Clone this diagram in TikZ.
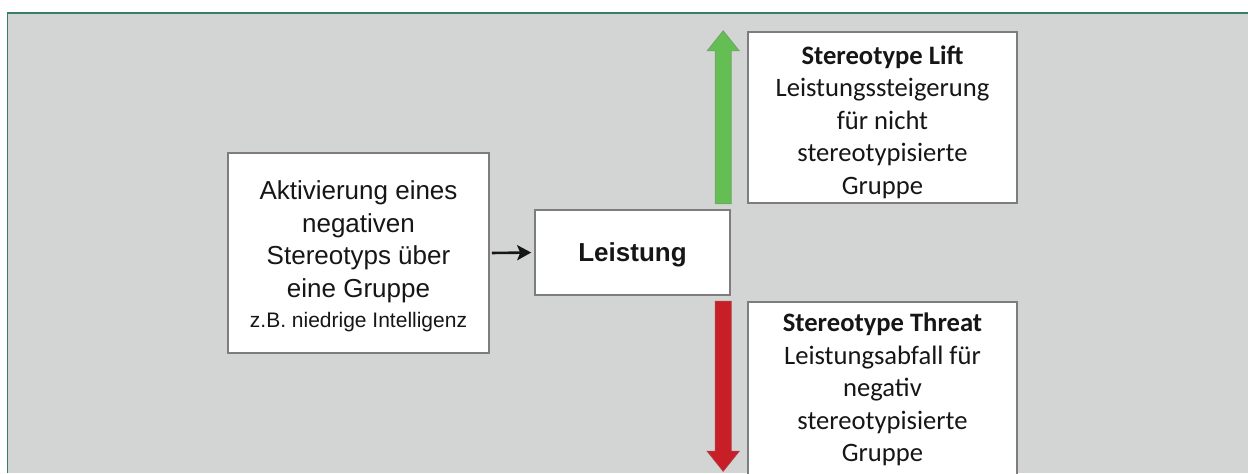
\documentclass[tikz,border=0pt]{standalone}
\usepackage{fontspec}
\setmainfont{Liberation Sans}
\newfontfamily\calibri{Carlito}
\usetikzlibrary{arrows.meta,calc}
\definecolor{panel}{RGB}{211,213,212}
\definecolor{frame}{RGB}{58,125,105}
\definecolor{boxline}{RGB}{125,125,125}
\definecolor{ink}{RGB}{22,22,22}
\definecolor{liftgreen}{RGB}{100,190,84}
\definecolor{threatred}{RGB}{200,30,40}
% centred lines, moved vertically by #1 without changing the box size
\newcommand\cardtext[2]{\raisebox{#1}[\height][\depth]{\begin{tabular}{@{}c@{}}#2\end{tabular}}}
\begin{document}
\begin{tikzpicture}[x=0.5pt,y=-0.5pt,
  card/.style={draw=boxline, line width=0.8pt, fill=white, inner sep=0pt, text=ink},
  sans/.style={font=\fontsize{13}{16.2}\selectfont},
  cal/.style={font=\calibri\fontsize{13.3}{16.25}\selectfont},
  blockarrow/.style={line width=0.4pt, line join=miter}]
\useasboundingbox (0,0) rectangle (1248,473);
\clip (0,0) rectangle (1248,473);

% panel and its frame
\fill[panel] (8,13) rectangle (1248,473);
\draw[frame, line width=0.8pt] (7.5,473) -- (7.5,13) -- (1248,13);

% boxes
\node[card, sans, minimum width=130.5pt, minimum height=100pt] (cause) at (358.5,253)
  {\cardtext{-2pt}{Aktivierung eines\\negativen\\Stereotyps über\\eine Gruppe\\[-1.2pt]
   \fontsize{10.5}{13}\selectfont z.B. niedrige Intelligenz}};
\node[card, minimum width=97.5pt, minimum height=42.5pt,
      font=\bfseries\fontsize{13}{16}\selectfont] (perf) at (632.5,252.5)
  {\cardtext{-1.2pt}{Leistung}};
\node[card, cal, minimum width=134.5pt, minimum height=85.5pt] (lift) at (882.5,117.5)
  {\cardtext{-2.5pt}{\textbf{Stereotype Lift}\\Leistungssteigerung\\für nicht\\stereotypisierte\\Gruppe}};
\node[card, cal, minimum width=134.5pt, minimum height=90pt] (threat) at (882.5,392)
  {\cardtext{1pt}{\textbf{Stereotype Threat}\\Leistungsabfall für\\negativ\\stereotypisierte\\Gruppe}};

% cause -> performance
\draw[ink, line width=1.3pt, -{Stealth[length=7pt,width=7.5pt,inset=1.5pt]},
      shorten <=1pt, shorten >=1.5pt] (cause.east) -- (perf.west);

% upward (lift) and downward (threat) block arrows
\coordinate (gbase) at ($(lift.south west)+(-24,0)$);
\coordinate (rtop) at ($(threat.north west)+(-24,0)$);
\filldraw[blockarrow, fill=liftgreen, draw=liftgreen!60!gray]
  ($(gbase)+(-8,0)$) -- ++(16,0) -- ++(0,-153) -- ++(8,0) -- ++(-16,-20)
  -- ++(-16,20) -- ++(8,0) -- cycle;
\filldraw[blockarrow, fill=threatred, draw=threatred!70!gray]
  ($(rtop)+(-8,0)$) -- ++(16,0) -- ++(0,150) -- ++(8,0) -- ++(-16,20)
  -- ++(-16,-20) -- ++(8,0) -- cycle;
\end{tikzpicture}
\end{document}
